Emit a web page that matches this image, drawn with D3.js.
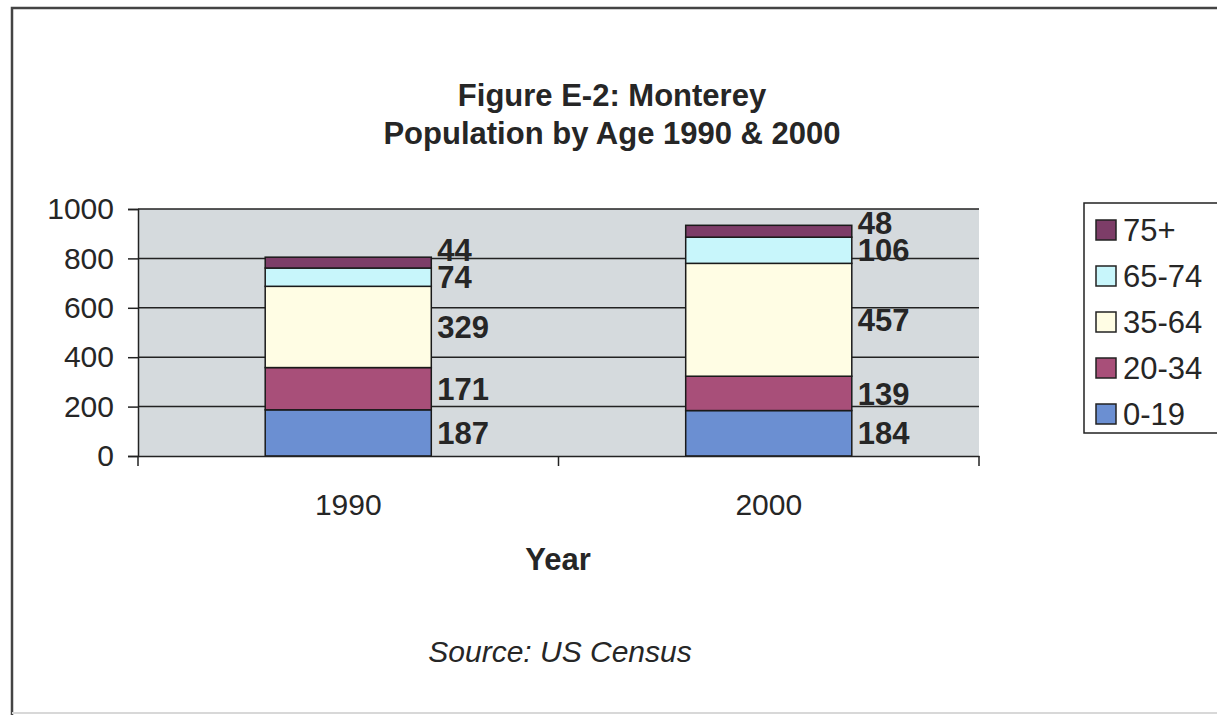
<!DOCTYPE html>
<html>
<head>
<meta charset="utf-8">
<script src="https://cdn.jsdelivr.net/npm/d3@7"></script>
<style>
  body { margin: 0; background: #fff; }
  text { font-family: "Liberation Sans", Arial, sans-serif; fill: #262626; }
</style>
</head>
<body>
<svg width="1217" height="715"></svg>
<script>
// Data
const years = ["1990", "2000"]
const ageGroups = ["0-19", "20-34", "35-64", "65-74", "75+"]
const pop1990 = [187, 171, 329, 74, 44]
const pop2000 = [184, 139, 457, 106, 48]
const yTicks = [0, 200, 400, 600, 800, 1000]
const groupColors = ["#6b8fd2", "#a84f79", "#fffde4", "#c8f6fb", "#7d3d68"]

const svg = d3.select("svg")

// outer frame (scan of a bordered chart)
svg.append("path")
    .attr("d", "M12,715 L12,8 L1217,8")
    .attr("fill", "none")
    .attr("stroke", "#444")
    .attr("stroke-width", 2.5)
svg.append("line")
    .attr("x1", 12).attr("x2", 1217).attr("y1", 713).attr("y2", 713)
    .attr("stroke", "#d8d8d8").attr("stroke-width", 2)

// Title
svg.append("text").attr("x", 612).attr("y", 106)
    .attr("text-anchor", "middle").attr("font-size", 31).attr("font-weight", "bold")
    .text("Figure E-2: Monterey")
svg.append("text").attr("x", 612).attr("y", 144)
    .attr("text-anchor", "middle").attr("font-size", 31).attr("font-weight", "bold")
    .text("Population by Age 1990 & 2000")

// Scales
const plotL = 138, plotR = 979, plotT = 209, plotB = 456

const x = d3.scaleBand()
    .domain(years)
    .range([plotL, plotR])
    .paddingInner(0.605)
    .paddingOuter(0.3025)

const y = d3.scaleLinear()
    .domain([0, 1000])
    .range([plotB, plotT])

const color = d3.scaleOrdinal().domain(ageGroups).range(groupColors)

// plot background
svg.append("rect")
    .attr("x", plotL).attr("y", y(1000))
    .attr("width", plotR - plotL).attr("height", y(0) - y(1000))
    .attr("fill", "#d5dadd")

// gridlines
svg.append("g")
    .selectAll("line")
    .data(yTicks.filter(d => d > 0))
    .join("line")
    .attr("x1", plotL).attr("x2", plotR)
    .attr("y1", d => y(d)).attr("y2", d => y(d))
    .attr("stroke", "#222").attr("stroke-width", 1.5)

// stack the data
const table = years.map((yr, i) => {
    const row = { year: yr }
    const vals = i === 0 ? pop1990 : pop2000
    ageGroups.forEach((g, j) => row[g] = vals[j])
    return row
})
const series = d3.stack().keys(ageGroups)(table)

// bars
svg.append("g")
    .selectAll("g")
    .data(series)
    .join("g")
    .attr("fill", d => color(d.key))
    .selectAll("rect")
    .data(d => d)
    .join("rect")
    .attr("x", d => x(d.data.year))
    .attr("width", x.bandwidth())
    .attr("y", d => y(d[1]))
    .attr("height", d => y(d[0]) - y(d[1]))
    .attr("stroke", "#1a1a1a")
    .attr("stroke-width", 1.5)

// value labels, right of each bar, pushed up when crowded
years.forEach((yr, i) => {
    let prevY = Infinity
    series.forEach(s => {
        const d = s[i]
        let ly = y((d[0] + d[1]) / 2)
        if (prevY - ly < 27) ly = prevY - 27
        prevY = ly
        svg.append("text")
            .attr("x", x(yr) + x.bandwidth() + 6)
            .attr("y", ly)
            .attr("dy", "0.36em")
            .attr("font-size", 31)
            .attr("font-weight", "bold")
            .text(d[1] - d[0])
    })
})

// y axis
const yAxis = svg.append("g")
    .attr("transform", `translate(${plotL},0)`)
    .call(d3.axisLeft(y).tickValues(yTicks).tickFormat(d3.format("d")).tickSize(10).tickPadding(14))
yAxis.select(".domain").attr("stroke", "#222").attr("stroke-width", 1.5)
yAxis.selectAll(".tick line").attr("stroke", "#222").attr("stroke-width", 1.5)
yAxis.selectAll(".tick text")
    .attr("font-size", 30).attr("font-family", "Liberation Sans, Arial, sans-serif")
    .attr("fill", "#262626")

// x axis
const xAxis = svg.append("g")
    .attr("transform", `translate(0,${plotB})`)
    .call(d3.axisBottom(x).tickSize(0).tickPadding(38))
xAxis.select(".domain").attr("stroke", "#222").attr("stroke-width", 1.5)
xAxis.selectAll(".tick text")
    .attr("font-size", 30).attr("font-family", "Liberation Sans, Arial, sans-serif")
    .attr("fill", "#262626")
// category separators
svg.append("g")
    .selectAll("line")
    .data([plotL, (plotL + plotR) / 2, plotR])
    .join("line")
    .attr("x1", d => d).attr("x2", d => d)
    .attr("y1", plotB).attr("y2", plotB + 10)
    .attr("stroke", "#222").attr("stroke-width", 1.5)

// axis title and source
svg.append("text").attr("x", 558).attr("y", 570)
    .attr("text-anchor", "middle").attr("font-size", 31).attr("font-weight", "bold")
    .text("Year")
svg.append("text").attr("x", 560).attr("y", 662)
    .attr("text-anchor", "middle").attr("font-size", 30).attr("font-style", "italic")
    .text("Source: US Census")

// Legend
const legend = svg.append("g")
legend.append("rect")
    .attr("x", 1084).attr("y", 203).attr("width", 140).attr("height", 230)
    .attr("fill", "#fff").attr("stroke", "#222").attr("stroke-width", 1.5)

const legendY = d3.scalePoint()
    .domain(ageGroups.slice().reverse())
    .range([230, 414])

const item = legend.selectAll("g.item")
    .data(ageGroups.slice().reverse())
    .join("g")
    .attr("class", "item")
    .attr("transform", d => `translate(1096,${legendY(d)})`)
item.append("rect")
    .attr("x", 0).attr("y", -10).attr("width", 20).attr("height", 20)
    .attr("fill", d => color(d)).attr("stroke", "#222").attr("stroke-width", 1.5)
item.append("text")
    .attr("x", 27).attr("dy", "0.36em")
    .attr("font-size", 31)
    .text(d => d)
</script>
</body>
</html>
